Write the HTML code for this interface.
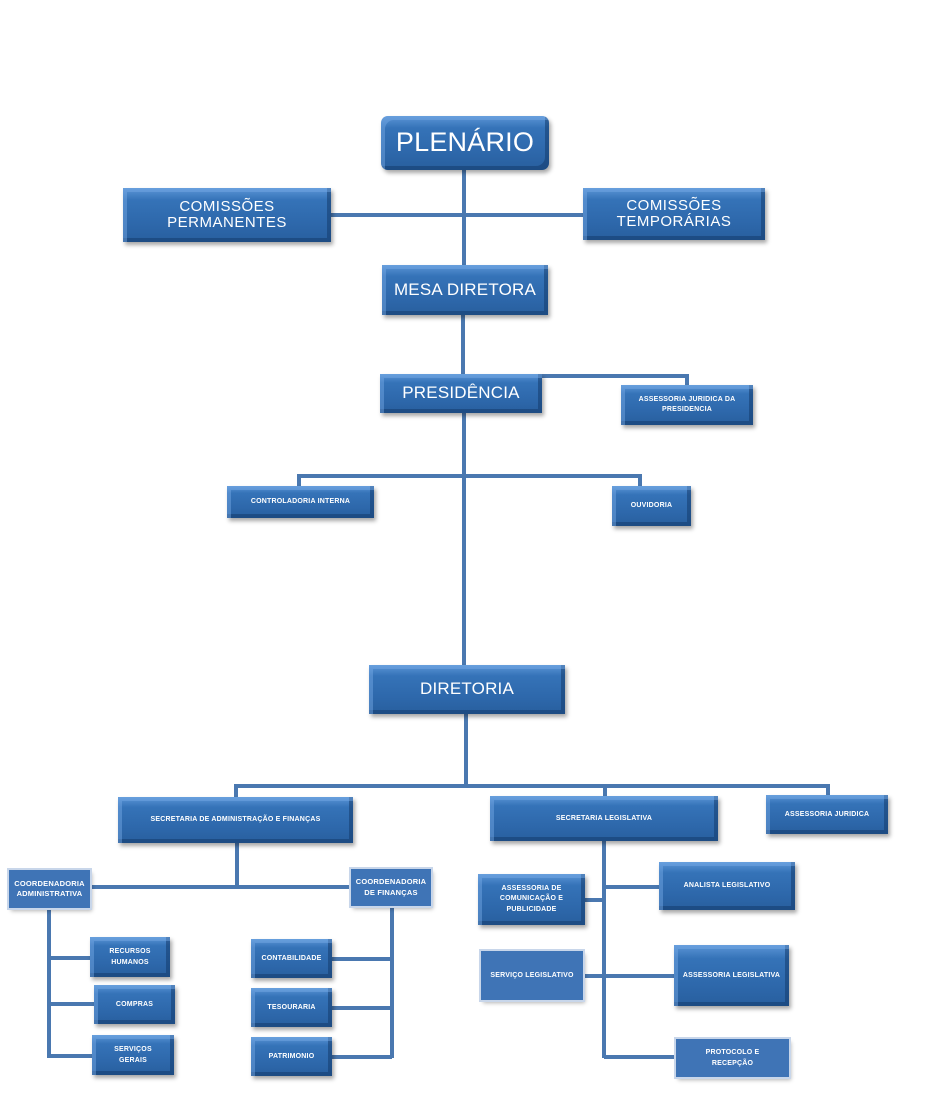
<!DOCTYPE html>
<html><head><meta charset="utf-8"><style>
body{margin:0;width:929px;height:1109px;background:#fff;position:relative;overflow:hidden;font-family:"Liberation Sans",sans-serif}
.b{position:absolute;box-sizing:border-box;color:#fff;display:flex;align-items:center;justify-content:center;text-align:center;font-weight:bold;
background:linear-gradient(180deg,#5b95d6 0%,#3573b8 22%,#2d67aa 70%,#285f9e 100%);
box-shadow:inset 6px 6px 0 -2px rgba(120,170,230,.45),inset -6px -6px 0 -2px rgba(20,60,110,.55),2px 3px 4px rgba(0,0,0,.35);font-size:8px;line-height:1.6;letter-spacing:.2px}
.f{background:#3f74b6;box-shadow:0 0 0 2px #c8d6ea,2px 3px 4px rgba(0,0,0,.3)}
.h{position:absolute;background:#4a78b0;height:4px}
.v{position:absolute;background:#4a78b0;width:4px}
.big{font-weight:normal;font-size:17px;line-height:1.1}
</style></head><body>
<!-- lines -->
<div class="v" style="left:462px;top:170px;height:95px"></div>
<div class="h" style="left:331px;top:213px;width:252px"></div>
<div class="v" style="left:461px;top:315px;height:60px"></div>
<div class="h" style="left:540px;top:374px;width:149px"></div>
<div class="v" style="left:685px;top:374px;height:12px"></div>
<div class="v" style="left:462px;top:413px;height:253px"></div>
<div class="h" style="left:297px;top:474px;width:345px"></div>
<div class="v" style="left:297px;top:474px;height:13px"></div>
<div class="v" style="left:638px;top:474px;height:13px"></div>
<div class="v" style="left:464px;top:714px;height:72px"></div>
<div class="h" style="left:234px;top:784px;width:596px"></div>
<div class="v" style="left:234px;top:784px;height:14px"></div>
<div class="v" style="left:603px;top:784px;height:13px"></div>
<div class="v" style="left:826px;top:784px;height:12px"></div>
<div class="v" style="left:235px;top:843px;height:45px"></div>
<div class="h" style="left:88px;top:885px;width:264px"></div>
<div class="v" style="left:47px;top:906px;height:152px"></div>
<div class="h" style="left:47px;top:956px;width:44px"></div>
<div class="h" style="left:47px;top:1002px;width:48px"></div>
<div class="h" style="left:47px;top:1054px;width:46px"></div>
<div class="v" style="left:390px;top:905px;height:153px"></div>
<div class="h" style="left:331px;top:957px;width:61px"></div>
<div class="h" style="left:331px;top:1006px;width:61px"></div>
<div class="h" style="left:331px;top:1055px;width:61px"></div>
<div class="v" style="left:602px;top:841px;height:217px"></div>
<div class="h" style="left:584px;top:898px;width:20px"></div>
<div class="h" style="left:604px;top:885px;width:56px"></div>
<div class="h" style="left:583px;top:974px;width:92px"></div>
<div class="h" style="left:604px;top:1055px;width:73px"></div>
<!-- boxes -->
<div class="b" style="left:381px;top:116px;width:168px;height:54px;border-radius:7px;font-weight:normal;font-size:27px">PLENÁRIO</div>
<div class="b big" style="left:123px;top:188px;width:208px;height:54px;font-size:15px;letter-spacing:.5px">COMISSÕES<br>PERMANENTES</div>
<div class="b big" style="left:583px;top:188px;width:182px;height:52px;font-size:15px;letter-spacing:.5px">COMISSÕES<br>TEMPORÁRIAS</div>
<div class="b big" style="left:382px;top:265px;width:166px;height:50px">MESA DIRETORA</div>
<div class="b big" style="left:380px;top:374px;width:162px;height:39px">PRESIDÊNCIA</div>
<div class="b" style="left:621px;top:385px;width:132px;height:40px;font-size:7px;line-height:1.4">ASSESSORIA JURIDICA DA<br>PRESIDENCIA</div>
<div class="b" style="left:227px;top:486px;width:147px;height:32px;font-size:7px">CONTROLADORIA INTERNA</div>
<div class="b" style="left:612px;top:486px;width:79px;height:40px;font-size:7px">OUVIDORIA</div>
<div class="b big" style="left:369px;top:665px;width:196px;height:49px">DIRETORIA</div>
<div class="b" style="left:118px;top:797px;width:235px;height:46px;font-size:7px">SECRETARIA DE ADMINISTRAÇÃO E FINANÇAS</div>
<div class="b" style="left:490px;top:796px;width:228px;height:45px;font-size:7px">SECRETARIA LEGISLATIVA</div>
<div class="b" style="left:766px;top:795px;width:122px;height:39px;font-size:7px">ASSESSORIA JURIDICA</div>
<div class="b f" style="left:9px;top:870px;width:81px;height:38px;font-size:7.5px;line-height:1.4">COORDENADORIA<br>ADMINISTRATIVA</div>
<div class="b f" style="left:351px;top:869px;width:80px;height:37px;font-size:7.5px;line-height:1.4">COORDENADORIA<br>DE FINANÇAS</div>
<div class="b" style="left:90px;top:937px;width:80px;height:40px;font-size:7px">RECURSOS<br>HUMANOS</div>
<div class="b" style="left:94px;top:985px;width:81px;height:39px;font-size:7px">COMPRAS</div>
<div class="b" style="left:92px;top:1035px;width:82px;height:40px;font-size:7px">SERVIÇOS<br>GERAIS</div>
<div class="b" style="left:251px;top:939px;width:81px;height:39px;font-size:7px">CONTABILIDADE</div>
<div class="b" style="left:251px;top:988px;width:81px;height:39px;font-size:7px">TESOURARIA</div>
<div class="b" style="left:251px;top:1037px;width:81px;height:39px;font-size:7px">PATRIMONIO</div>
<div class="b" style="left:478px;top:874px;width:107px;height:51px;font-size:7px;line-height:1.5">ASSESSORIA DE<br>COMUNICAÇÃO E<br>PUBLICIDADE</div>
<div class="b" style="left:659px;top:862px;width:136px;height:48px;font-size:7px">ANALISTA LEGISLATIVO</div>
<div class="b f" style="left:481px;top:951px;width:102px;height:49px;font-size:7px">SERVIÇO LEGISLATIVO</div>
<div class="b" style="left:674px;top:945px;width:115px;height:61px;font-size:7px">ASSESSORIA LEGISLATIVA</div>
<div class="b f" style="left:676px;top:1039px;width:113px;height:38px;font-size:7px">PROTOCOLO E<br>RECEPÇÃO</div>
</body></html>
